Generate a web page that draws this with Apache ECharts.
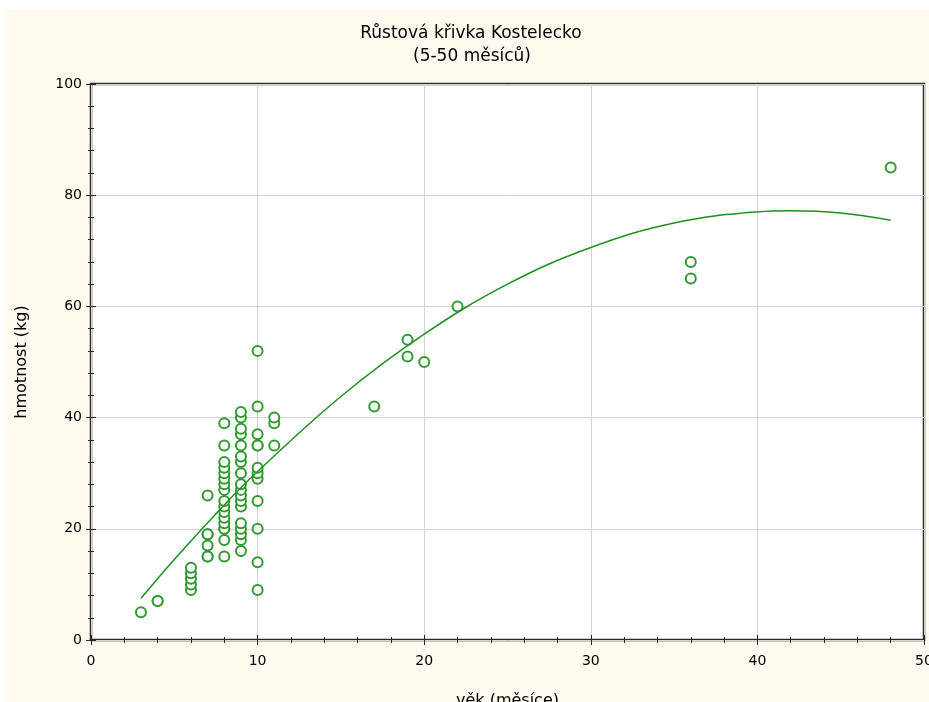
<!DOCTYPE html>
<html>
<head>
<meta charset="utf-8">
<script src="https://cdn.jsdelivr.net/npm/echarts@6/dist/echarts.min.js"></script>
<style>
html,body{margin:0;padding:0;background:#ffffff;}
#chart{width:929px;height:702px;}
</style>
</head>
<body>
<div id="chart"></div>
<script>
// Observed data: age (months) and weight (kg)
const ageMonths = [
  3,
  4, 4,
  6, 6, 6, 6, 6,
  7, 7, 7, 7, 7, 7,
  8, 8, 8, 8, 8, 8, 8, 8, 8, 8, 8, 8, 8, 8, 8, 8, 8,
  9, 9, 9, 9, 9, 9, 9, 9, 9, 9, 9, 9, 9, 9, 9, 9, 9, 9,
  10, 10, 10, 10, 10, 10, 10, 10, 10, 10, 10, 10,
  11, 11, 11,
  17, 19, 19, 20, 22, 36, 36, 48
];
const weightKg = [
  5,
  7, 7,
  9, 10, 11, 12, 13,
  15, 15, 17, 19, 19, 26,
  15, 18, 20, 20, 21, 22, 23, 24, 25, 27, 28, 29, 30, 31, 32, 35, 39,
  16, 18, 19, 20, 21, 24, 25, 26, 27, 28, 30, 32, 33, 35, 37, 38, 40, 41,
  9, 14, 20, 25, 29, 30, 31, 35, 35, 37, 42, 52,
  35, 39, 40,
  42, 51, 54, 50, 60, 65, 68, 85
];
// Fitted growth curve
const curveAge = [3, 5, 8, 10, 15, 20, 25, 30, 35, 40, 42, 45, 48];
const curveWeight = [7.5, 14.5, 24.3, 30.3, 43.8, 55.0, 64.0, 70.6, 75.0, 77.0, 77.2, 76.8, 75.5];

const titleLine1 = 'Růstová křivka Kostelecko';
const titleLine2 = '(5-50 měsíců)';
const xName = 'věk (měsíce)';
const yName = 'hmotnost (kg)';

const scatterData = ageMonths.map((a, i) => [a, weightKg[i]]);
const curveData = curveAge.map((a, i) => [a, curveWeight[i]]);

const chart = echarts.init(document.getElementById('chart'), null, {renderer: 'canvas'});
const FONT = 'DejaVu Sans';
const frame = '#2a2a2a';
const tickCommon = {
  axisTick: {show: true, inside: true, length: 5, lineStyle: {color: frame, width: 1}},
  minorTick: {show: true, splitNumber: 5, length: 3, lineStyle: {color: frame, width: 1}},
  axisLine: {show: false}
};
chart.setOption({
  backgroundColor: '#fefaee',
  animation: false,
  graphic: [
    {type: 'rect', shape: {x: 0, y: 0, width: 929, height: 9}, style: {fill: '#ffffff'}, silent: true},
    {type: 'rect', shape: {x: 0, y: 0, width: 4, height: 702}, style: {fill: '#ffffff'}, silent: true},
    {type: 'text', style: {text: titleLine1, x: 471, y: 34, textAlign: 'center', textVerticalAlign: 'middle', font: '17px "DejaVu Sans"', fill: '#000'}},
    {type: 'text', style: {text: titleLine2, x: 472, y: 57, textAlign: 'center', textVerticalAlign: 'middle', font: '17px "DejaVu Sans"', fill: '#000'}}
  ],
  grid: {left: 91, top: 84, right: 5, bottom: 62, show: true, backgroundColor: '#ffffff', borderColor: frame, borderWidth: 2.5, containLabel: false, outerBoundsMode: 'none'},
  xAxis: [
    Object.assign({
      type: 'value', min: 0, max: 50, interval: 10, position: 'bottom',
      name: xName, nameLocation: 'middle', nameGap: 53,
      nameTextStyle: {fontFamily: FONT, fontSize: 16, color: '#000'},
      axisLabel: {fontFamily: FONT, fontSize: 14, color: '#000', margin: 14},
      splitLine: {show: true, lineStyle: {color: '#d4d4d4', width: 1}}
    }, tickCommon),
    Object.assign({
      type: 'value', min: 0, max: 50, interval: 10, position: 'top',
      axisLabel: {show: false}, splitLine: {show: false}
    }, tickCommon)
  ],
  yAxis: [
    Object.assign({
      type: 'value', min: 0, max: 100, interval: 20, position: 'left',
      name: yName, nameLocation: 'middle', nameGap: 61, nameRotate: 90,
      nameTextStyle: {fontFamily: FONT, fontSize: 16, color: '#000'},
      axisLabel: {fontFamily: FONT, fontSize: 14, color: '#000', margin: 9},
      splitLine: {show: true, lineStyle: {color: '#d4d4d4', width: 1}}
    }, tickCommon),
    Object.assign({
      type: 'value', min: 0, max: 100, interval: 20, position: 'right',
      axisLabel: {show: false}, splitLine: {show: false}
    }, tickCommon)
  ],
  series: [
    {
      type: 'scatter', xAxisIndex: 0, yAxisIndex: 0,
      data: scatterData, symbol: 'emptyCircle', symbolSize: 10,
      itemStyle: {color: '#2f9a2f', borderColor: '#2f9a2f', borderWidth: 1.3, opacity: 1},
      z: 3
    },
    {
      type: 'line', xAxisIndex: 0, yAxisIndex: 0,
      data: curveData, smooth: 0.4, showSymbol: false, symbol: 'none',
      lineStyle: {color: '#1f8f1f', width: 1.5},
      z: 4
    }
  ]
});
</script>
</body>
</html>
